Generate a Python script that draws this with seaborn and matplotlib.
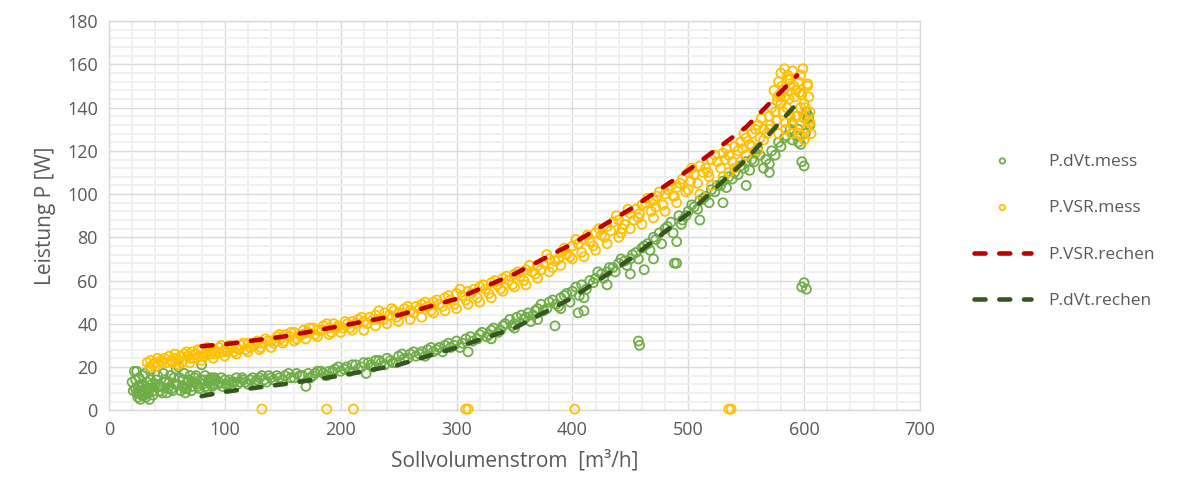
import matplotlib
matplotlib.use("Agg")
import matplotlib.pyplot as plt
from matplotlib.ticker import MultipleLocator
import seaborn as sns

# measured power, volume-flow-controller (yellow)
vsr_x = [33, 35, 36, 38, 40, 45, 48, 52, 55, 58, 60, 62, 65, 68, 70, 72, 75, 78, 80, 83,
         86, 90, 92, 95, 98, 100, 104, 108, 110, 114, 118, 120, 125, 128, 132, 135, 140, 145, 148, 152,
         156, 160, 165, 168, 172, 176, 180, 185, 190, 194, 198, 202, 206, 210, 215, 220, 225, 230, 234, 238,
         242, 246, 250, 255, 260, 265, 270, 275, 280, 285, 290, 295, 300, 305, 310, 315, 320, 325, 330, 335,
         340, 345, 350, 355, 360, 365, 370, 375, 380, 385, 390, 395, 400, 405, 410, 415, 420, 425, 430, 435,
         440, 445, 450, 455, 460, 465, 470, 475, 480, 485, 490, 495, 500, 505, 510, 515, 520, 525, 530, 535,
         540, 545, 550, 555, 560, 565, 570, 574, 578, 580, 583, 586, 588, 590, 592, 595, 597, 599, 600, 602,
         604, 605, 606, 585, 590, 595, 600, 580, 575, 570, 565, 560, 555, 550, 545, 540, 535, 530, 520, 510,
         500, 490, 480, 470, 460, 450, 440, 430, 420, 410, 400, 390, 380, 370, 360, 350, 340, 330, 320, 310,
         300, 290, 280, 270, 260, 250, 240, 230, 220, 210, 200, 190, 180, 170, 160, 150, 140, 130, 120, 110,
         100, 90, 80, 70, 60, 50, 40, 582, 588, 596, 603, 592, 584, 577,
         42, 46, 54, 57, 63, 67, 73, 77, 82, 85, 88, 93, 97, 102, 106, 112, 116, 122, 126, 131,
         137, 142, 147, 151, 157, 162, 167, 173, 178, 183, 188, 192, 197, 204, 208, 213, 218, 223, 228, 233,
         237, 244, 248, 253, 258, 263, 268, 273, 278, 283, 288, 293, 298, 303, 308, 313, 318, 323, 328, 333,
         338, 343, 348, 353, 358, 363, 368, 373, 378, 383, 388, 393, 398, 403, 408, 413, 418, 423, 428, 433,
         438, 443, 448, 453, 458, 463, 468, 473, 478, 483, 488, 493, 498, 503, 508, 513, 518, 523, 528, 533,
         538, 543, 548, 553, 558, 563, 568, 572, 576, 579, 582, 587, 591, 594, 598, 601, 603, 605, 589, 596,
         584, 578,
         442, 457, 472, 487, 502, 517, 532, 547, 562, 571, 577, 581, 586, 593, 597, 600, 604, 588, 583, 598,
         132, 188, 211, 308, 310, 402, 535, 537]
vsr_y = [22, 20, 23, 21, 22, 23, 24, 25, 22, 24, 23, 25, 26, 25, 24, 27, 26, 25, 28, 26,
         27, 28, 26, 29, 27, 28, 30, 27, 29, 30, 28, 31, 30, 32, 31, 33, 32, 34, 33, 35,
         34, 36, 35, 37, 36, 38, 37, 39, 38, 40, 39, 38, 40, 41, 42, 41, 43, 44, 42, 45,
         44, 46, 45, 47, 46, 48, 49, 48, 50, 49, 52, 51, 54, 53, 55, 56, 57, 56, 59, 58,
         61, 60, 63, 62, 65, 64, 67, 68, 70, 69, 73, 72, 76, 77, 79, 78, 82, 81, 85, 87,
         88, 86, 91, 93, 95, 98, 97, 101, 100, 104, 103, 107, 110, 109, 113, 112, 116, 115, 119, 118,
         122, 124, 126, 128, 132, 130, 136, 148, 152, 156, 158, 155, 150, 157, 145, 152, 140, 158, 135, 130,
         145, 138, 128, 140, 132, 128, 125, 142, 138, 130, 125, 120, 122, 118, 115, 112, 110, 108, 104, 100,
         102, 96, 92, 89, 86, 84, 80, 77, 74, 71, 70, 67, 64, 61, 58, 57, 55, 52, 50, 49,
         47, 46, 45, 43, 42, 41, 40, 39, 37, 37, 36, 35, 34, 33, 32, 31, 29, 28, 27, 26,
         25, 24, 23, 22, 21, 22, 20, 148, 153, 147, 150, 136, 133, 145,
         24, 22, 23, 26, 22, 27, 24, 28, 25, 29, 26, 27, 30, 27, 29, 28, 31, 29, 31, 29,
         32, 31, 35, 32, 36, 33, 35, 38, 35, 37, 40, 36, 38, 41, 38, 40, 43, 40, 42, 46,
         42, 47, 43, 45, 48, 45, 47, 50, 46, 51, 48, 53, 49, 56, 51, 54, 52, 58, 54, 60,
         56, 62, 58, 64, 60, 67, 63, 65, 72, 66, 70, 75, 71, 79, 73, 81, 76, 84, 80, 83,
         90, 84, 93, 88, 91, 96, 92, 99, 95, 102, 99, 105, 101, 112, 105, 110, 108, 118, 112, 121,
         115, 120, 128, 123, 130, 135, 128, 140, 134, 146, 138, 144, 150, 136, 146, 140, 151, 133, 128, 132,
         130, 128,
         82, 89, 94, 99, 106, 110, 116, 121, 126, 132, 143, 150, 153, 148, 155, 142, 134, 136, 145, 127,
         0.5, 0.5, 0.5, 0.5, 0.5, 0.5, 0.5, 0.5]

# measured power, dVt controller (green)
dvt_x = [20, 22, 23, 24, 25, 26, 27, 28, 29, 30, 31, 32, 33, 34, 35, 36, 38, 40, 42, 44,
         45, 47, 50, 52, 54, 56, 58, 60, 59, 62, 64, 66, 68, 70, 72, 74, 76, 78, 80, 82,
         84, 86, 88, 90, 92, 95, 98, 100, 103, 106, 110, 113, 116, 120, 124, 128, 132, 136, 140, 145,
         150, 155, 160, 165, 170, 172, 176, 180, 185, 190, 195, 200, 205, 210, 215, 220, 222, 226, 230, 235,
         240, 245, 250, 255, 260, 265, 270, 275, 280, 285, 290, 295, 300, 305, 310, 312, 318, 322, 328, 332,
         338, 342, 348, 352, 358, 362, 366, 370, 375, 380, 385, 386, 390, 395, 400, 405, 408, 410, 415, 420,
         425, 430, 435, 440, 445, 450, 455, 457, 458, 460, 462, 465, 470, 475, 480, 485, 488, 490, 492, 495,
         500, 505, 510, 515, 520, 525, 530, 535, 540, 545, 550, 555, 558, 560, 565, 570, 575, 580, 585, 590,
         595, 598, 600, 603, 605, 598, 602, 600, 595, 590, 602, 330, 350, 370, 390, 410, 430, 450, 470, 490,
         510, 530, 550, 570, 26, 28, 30, 48, 66, 24, 36,
         21, 23, 25, 27, 29, 31, 33, 35, 37, 39, 41, 43, 46, 49, 51, 53, 55, 57, 61, 63,
         65, 67, 69, 71, 73, 75, 77, 79, 81, 83, 85, 87, 89, 91, 94, 97, 101, 104, 108, 111,
         115, 118, 122, 126, 130, 134, 138, 142, 147, 152, 157, 162, 167, 174, 178, 183, 188, 193, 198, 203,
         208, 213, 218, 224, 228, 233, 238, 243, 248, 253, 258, 263, 268, 273, 278, 283, 288, 293, 298, 303,
         308, 314, 320, 326, 330, 336, 340, 346, 350, 356, 360, 364, 368, 373, 378, 383, 388, 393, 398, 403,
         406, 412, 418, 422, 427, 432, 437, 442, 447, 452, 457, 462, 467, 472, 477, 482, 487, 494, 498, 503,
         508, 513, 518, 523, 528, 533, 538, 543, 548, 553, 557, 562, 567, 572, 578, 583, 588, 593, 597, 601,
         604]
dvt_y = [13, 18, 10, 8, 6, 15, 5, 7, 11, 9, 17, 6, 13, 8, 10, 14, 7, 12, 16, 9,
         11, 17, 8, 13, 10, 15, 19, 20, 12, 9, 14, 8, 13, 16, 11, 15, 12, 10, 21, 14,
         11, 13, 15, 12, 14, 13, 11, 14, 12, 13, 15, 13, 14, 12, 15, 14, 16, 13, 15, 16,
         14, 17, 15, 16, 11, 17, 16, 18, 17, 18, 19, 18, 20, 21, 19, 22, 17, 21, 23, 22,
         24, 22, 25, 24, 26, 25, 27, 28, 27, 29, 30, 29, 32, 31, 27, 34, 33, 36, 35, 38,
         37, 40, 39, 43, 42, 45, 44, 47, 46, 50, 39, 49, 52, 54, 55, 45, 58, 46, 60, 61,
         63, 64, 66, 68, 69, 70, 73, 32, 30, 75, 65, 77, 80, 82, 84, 87, 68, 68, 90, 88,
         92, 94, 97, 99, 102, 104, 106, 108, 110, 113, 115, 116, 119, 121, 112, 114, 118, 122, 127, 125,
         130, 115, 113, 135, 132, 57, 56, 59, 124, 133, 138, 33, 38, 42, 47, 52, 58, 63, 70, 78,
         88, 96, 104, 110, 8, 12, 7, 14, 10, 18, 19,
         9, 14, 11, 9, 16, 7, 10, 5, 12, 9, 14, 11, 8, 13, 10, 16, 9, 12, 15, 11,
         17, 10, 14, 9, 13, 16, 11, 14, 12, 16, 10, 14, 11, 15, 12, 15, 12, 14, 13, 12,
         15, 13, 14, 13, 15, 14, 16, 14, 15, 16, 15, 17, 16, 15, 17, 18, 16, 18, 20, 19,
         18, 21, 20, 22, 20, 23, 21, 23, 22, 26, 24, 27, 26, 25, 29, 28, 27, 31, 30, 29,
         33, 32, 35, 34, 37, 36, 39, 42, 40, 44, 43, 41, 46, 49, 47, 51, 48, 53, 50, 57,
         53, 56, 59, 64, 61, 66, 64, 70, 67, 72, 70, 76, 74, 79, 77, 85, 82, 86, 90, 95,
         93, 98, 96, 101, 104, 103, 107, 109, 112, 111, 115, 118, 116, 120, 124, 126, 130, 127, 123, 128,
         136]

# calculated curves
vsr_calc_x = [80, 100, 150, 200, 250, 300, 350, 400, 450, 500, 550, 594]
vsr_calc_y = [29.6, 30.5, 34, 39, 44, 51.5, 63, 77, 93, 111, 131, 155]
dvt_calc_x = [80, 100, 150, 200, 250, 300, 350, 400, 450, 500, 550, 594]
dvt_calc_y = [6.5, 8.5, 12, 16, 21, 29, 38, 52, 70, 91, 116, 142]

sns.set_theme(style="white")
plt.rcParams['font.family'] = ['Open Sans', 'DejaVu Sans']
txt = '#595959'

fig = plt.figure(figsize=(11.84, 4.93), dpi=100)
ax = fig.add_axes([0.092, 0.168, 0.685, 0.789])

ax.xaxis.set_major_locator(MultipleLocator(100))
ax.xaxis.set_minor_locator(MultipleLocator(20))
ax.yaxis.set_major_locator(MultipleLocator(20))
ax.yaxis.set_minor_locator(MultipleLocator(4))
ax.grid(which='minor', color='#F0F0F0', linewidth=1.4)
ax.grid(which='major', color='#D9D9D9', linewidth=1.0)
ax.set_axisbelow(True)

sns.scatterplot(x=dvt_x, y=dvt_y, ax=ax, marker='o', s=42, facecolor='none',
                edgecolor='#70AD47', linewidth=1.3, label='P.dVt.mess', clip_on=False, zorder=3)
sns.scatterplot(x=vsr_x, y=vsr_y, ax=ax, marker='o', s=42, facecolor='none',
                edgecolor='#FFC000', linewidth=1.3, label='P.VSR.mess', clip_on=False, zorder=3)
sns.lineplot(x=vsr_calc_x, y=vsr_calc_y, ax=ax, color='#C00000', linewidth=3.3,
             linestyle=(0, (2.4, 3.0)), dash_capstyle='round', label='P.VSR.rechen', zorder=4)
sns.lineplot(x=dvt_calc_x, y=dvt_calc_y, ax=ax, color='#375623', linewidth=3.3,
             linestyle=(0, (2.4, 3.0)), dash_capstyle='round', label='P.dVt.rechen', zorder=4)

ax.set_xlim(0, 700)
ax.set_ylim(0, 180)
for sp in ax.spines.values():
    sp.set_color('#D9D9D9')
    sp.set_linewidth(1.0)
ax.tick_params(which='both', length=0, labelsize=13, colors=txt, pad=8)
ax.set_xlabel('Sollvolumenstrom  [m³/h]', fontsize=15, color=txt, labelpad=8)
ax.set_ylabel('Leistung P [W]', fontsize=15, color=txt, labelpad=8)

leg = ax.legend(loc='center left', bbox_to_anchor=(1.047, 0.46), frameon=False,
                fontsize=12.5, labelspacing=1.75, handlelength=3.3, markerscale=0.6,
                handletextpad=1.0)
for t in leg.get_texts():
    t.set_color(txt)

plt.savefig('out.png', dpi=100)
